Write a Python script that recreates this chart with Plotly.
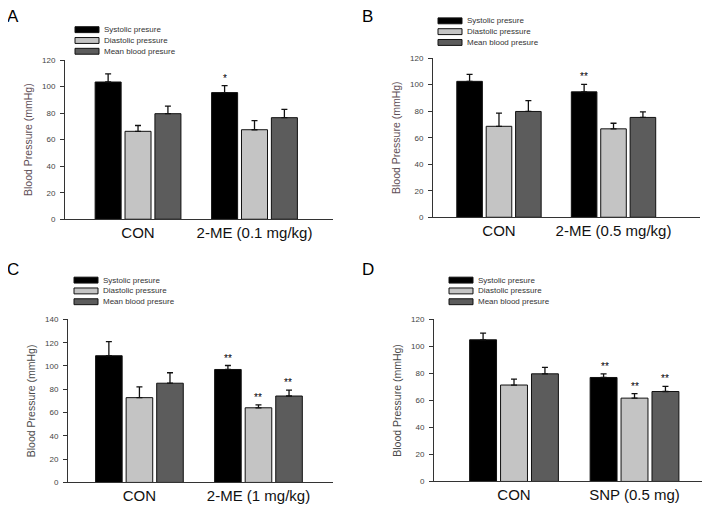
import plotly.graph_objects as go

OFF = 8  # default page body margin
W, H = 710 - OFF, 511 - OFF

series_names = ["Systolic presure", "Diastolic pressure", "Mean blood presure"]
series_colors = ["#000000", "#c4c4c4", "#5c5c5c"]

# Panel data
panel_letters = ["A", "B", "C", "D"]
panel_categories = [
    ["CON", "2-ME (0.1 mg/kg)"],
    ["CON", "2-ME (0.5 mg/kg)"],
    ["CON", "2-ME (1 mg/kg)"],
    ["CON", "SNP (0.5 mg)"],
]
# values per panel, each [CON, treatment]
systolic = [[103.5, 95.5], [102.5, 94.6], [108.8, 97.0], [104.9, 77.0]]
diastolic = [[66.3, 67.5], [68.6, 66.7], [72.8, 64.1], [71.4, 61.7]]
mean_bp = [[79.6, 76.6], [79.8, 75.3], [85.2, 74.2], [79.7, 66.6]]
systolic_err = [[6.2, 5.2], [5.2, 5.6], [12.1, 3.4], [4.9, 2.7]]
diastolic_err = [[4.4, 6.9], [9.9, 4.2], [9.3, 2.5], [4.4, 3.4]]
mean_err = [[5.7, 6.2], [8.1, 4.2], [9.0, 5.1], [4.8, 3.8]]
# significance marks per panel for treatment group [sys, dia, mean]
stars = [["*", "", ""], ["**", "", ""], ["**", "**", "**"], ["**", "**", "**"]]
y_max = [120, 120, 140, 120]
y_title = "Blood Pressure (mmHg)"

# layout geometry in reference pixels (x_left, x_right, y_top, y_bottom), and x ranges
px_boxes = [(65, 333, 57, 219), (433, 700, 55, 217), (68, 333, 321, 487), (434, 702, 321, 486)]
x_ranges = [(-0.627, 1.674), (-0.576, 1.755), (-0.60, 1.626), (-0.664, 1.56)]
letter_pos = [(5, 13), (360, 13), (5, 270), (360, 270)]
legend_pos = [(75, 26, 11), (438, 17, 11), (74, 281, 11), (449, 281, 11)]
title_colors = ["#5e4e56", "#5e4e56", "#4a4a4a", "#4a4a4a"]


def px(x):
    return (x - OFF) / W


def py(y):
    return 1 - (y - OFF) / H


fig = go.Figure()
shapes = []
annotations = []

for p in range(4):
    ax = "" if p == 0 else str(p + 1)
    xref, yref = "x" + ax, "y" + ax
    cats = panel_categories[p]
    vals = [systolic[p], diastolic[p], mean_bp[p]]
    errs = [systolic_err[p], diastolic_err[p], mean_err[p]]
    for s in range(3):
        fig.add_trace(go.Bar(
            x=cats, y=vals[s], name=series_names[s],
            marker=dict(color=series_colors[s], line=dict(color="#111111", width=1)),
            error_y=dict(type="data", array=errs[s], arrayminus=[0, 0], symmetric=False,
                         color="#111111", thickness=1.3, width=3),
            xaxis=xref, yaxis=yref, showlegend=False, offsetgroup=str(s),
        ))
        if stars[p][s]:
            annotations.append(dict(
                x=cats[1], y=vals[s][1] + errs[s][1], xref=xref, yref=yref,
                text=stars[p][s], showarrow=False, yanchor="bottom",
                xshift=(s - 1) * 30, yshift=0,
                font=dict(size=10, color="#000000", family="Arial"),
            ))
    x0, x1, yt, yb = px_boxes[p]
    fig.layout["xaxis" + ax] = dict(
        domain=[px(x0), px(x1)], range=list(x_ranges[p]), type="category",
        showline=True, linecolor="#333333", linewidth=1,
        ticks="", tickfont=dict(size=15, color="#111111", family="Arial"),
        showgrid=False, zeroline=False, anchor=yref, fixedrange=True,
    )
    fig.layout["yaxis" + ax] = dict(
        domain=[py(yb), py(yt)], range=[0, y_max[p]], dtick=20, tick0=0,
        showline=True, linecolor="#333333", linewidth=1,
        ticks="outside", ticklen=4, tickcolor="#333333", tickwidth=1,
        ticklabelstandoff=3,
        tickfont=dict(size=8, color="#444444", family="Arial"),
        showgrid=False, zeroline=False, anchor=xref,
        title=dict(text=y_title, font=dict(size=10.5, color=title_colors[p], family="Arial"), standoff=7),
    )
    lx, ly = letter_pos[p]
    annotations.append(dict(
        x=px(lx), y=py(ly), xref="paper", yref="paper", text=panel_letters[p],
        showarrow=False, xanchor="left", yanchor="middle",
        font=dict(size=17, color="#000000", family="Arial"),
    ))
    gx, gy, gs = legend_pos[p]
    for s in range(3):
        cy = gy + s * gs
        shapes.append(dict(
            type="rect", xref="paper", yref="paper",
            x0=px(gx), x1=px(gx + 24), y0=py(cy + 3), y1=py(cy - 3),
            fillcolor=series_colors[s], line=dict(color="#111111", width=1),
        ))
        annotations.append(dict(
            x=px(gx + 27), y=py(cy), xref="paper", yref="paper",
            text=series_names[s], showarrow=False, xanchor="left", yanchor="middle",
            font=dict(size=8, color="#333333", family="Arial"),
        ))

fig.update_layout(
    width=W, height=H, margin=dict(l=0, r=0, t=0, b=0),
    paper_bgcolor="white", plot_bgcolor="white",
    barmode="group", bargap=0.23, bargroupgap=0.13,
    shapes=shapes, annotations=annotations, showlegend=False,
)

fig.write_html("out.html")
